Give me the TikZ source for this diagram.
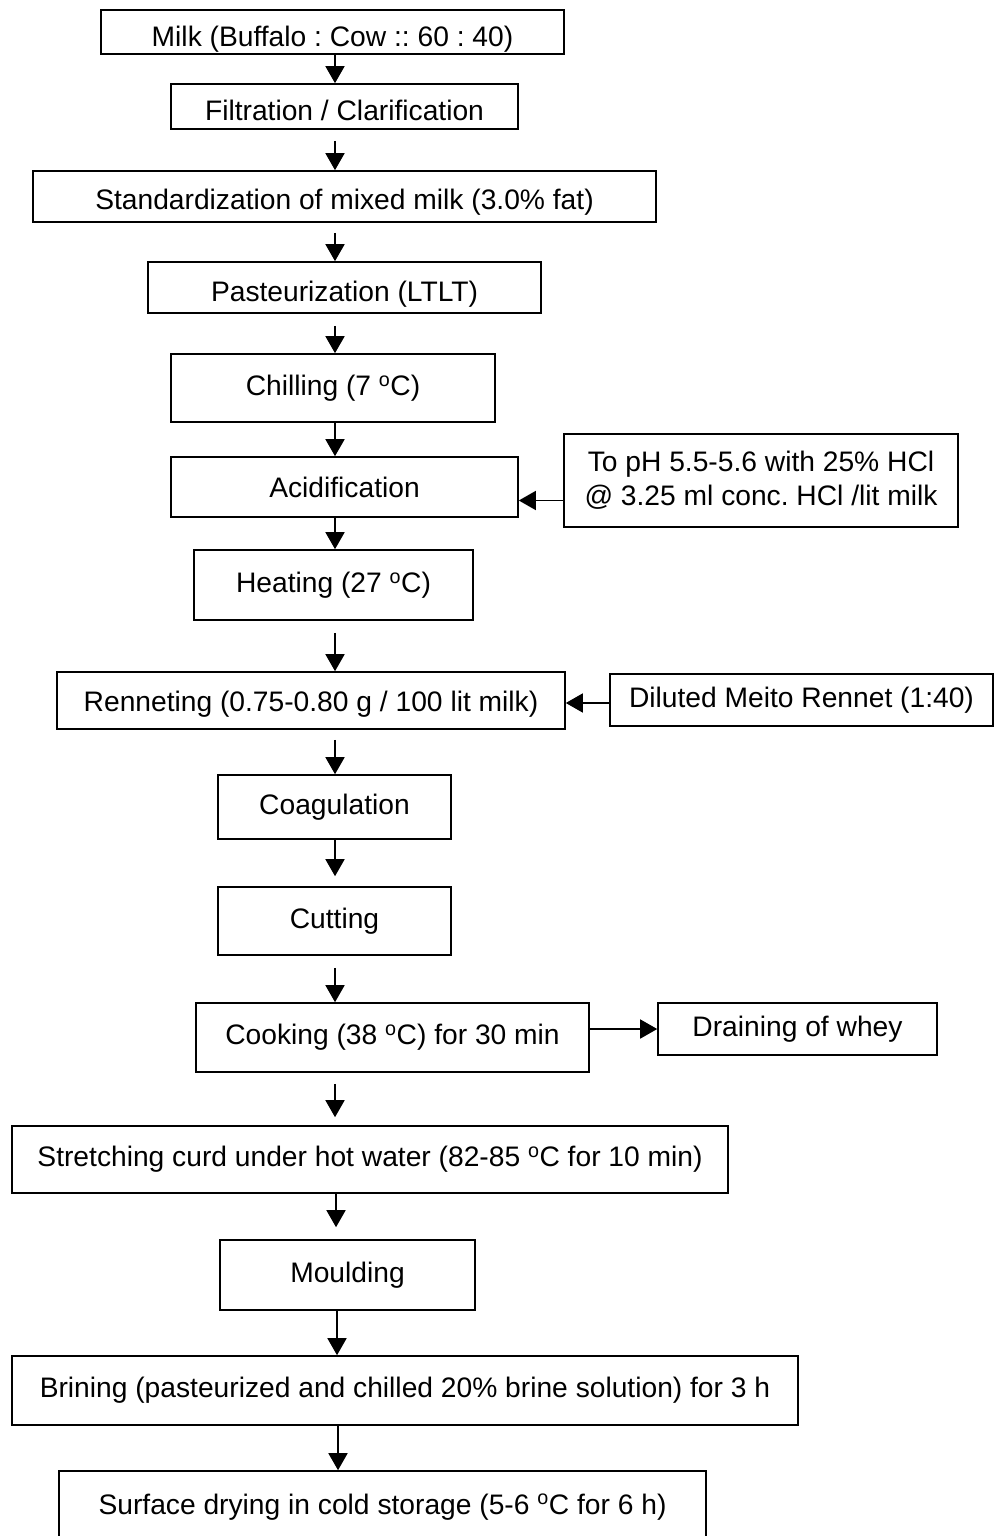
\documentclass[tikz,border=0pt]{standalone}
\usepackage{fontspec}
\setmainfont{Liberation Sans}
\usepackage{tikz}
\usetikzlibrary{arrows.meta,positioning,calc}
\tikzset{
  box/.style={draw=black,fill=white,line width=1.6pt,align=center,inner sep=2pt,
              font=\fontsize{28.2}{34}\selectfont\frenchspacing},
  flow/.style={-{Triangle[length=17pt,width=19pt]},line width=1.6pt,draw=black},
}
\newcommand{\dg}{\textsuperscript{o}}

\begin{document}
\begin{tikzpicture}[x=1pt,y=-1pt]
  \useasboundingbox (0,0) rectangle (995,1536);
  \coordinate (spine) at (335,0);

  % main line
  \node[box,minimum width=463pt,minimum height=44pt,text height=35pt,text depth=5pt] (milk)  at (332.5,32)   {Milk (Buffalo : Cow :: 60 : 40)};
  \node[box,minimum width=347pt,minimum height=45pt,text height=33pt,text depth=4pt] (filt)  at (344.5,106.5) {Filtration / Clarification};
  \node[box,minimum width=623pt,minimum height=51pt,text height=30pt,text depth=5pt] (std)   at (344.5,196.5) {Standardization of mixed milk (3.0\% fat)};
  \node[box,minimum width=393pt,minimum height=51pt,text height=31pt,text depth=4pt] (past)  at (344.5,287.5) {Pasteurization (LTLT)};
  \node[box,minimum width=324pt,minimum height=68pt] (chill) at (333,388)     {Chilling (7 \dg C)};
  \node[box,minimum width=347pt,minimum height=60pt] (acid)  at (344.5,487)   {Acidification};
  \node[box,minimum width=279pt,minimum height=70pt] (heat)  at (333.5,585)   {Heating (27 \dg C)};
  \node[box,minimum width=508pt,minimum height=57pt,text height=26pt,text depth=5pt] (renn)  at (311,700.5)   {Renneting (0.75-0.80 g / 100 lit milk)};
  \node[box,minimum width=233pt,minimum height=64pt] (coag)  at (334.5,807)   {Coagulation};
  \node[box,minimum width=233pt,minimum height=68pt] (cut)   at (334.5,921)   {Cutting};
  \node[box,minimum width=393pt,minimum height=69pt] (cook)  at (392.5,1037.5) {Cooking (38 \dg C) for 30 min};
  \node[box,minimum width=716pt,minimum height=67pt] (stretch) at (370,1159.5) {Stretching curd under hot water (82-85 \dg C for 10 min)};
  \node[box,minimum width=255pt,minimum height=70pt] (mould) at (347.5,1275)  {Moulding};
  \node[box,minimum width=786pt,minimum height=69pt] (brine) at (405,1390.5)  {Brining (pasteurized and chilled 20\% brine solution) for 3 h};
  \node[box,minimum width=647pt,minimum height=76pt,text height=17pt,text depth=7pt] (surf)  at (382.5,1509)  {Surface drying in cold storage (5-6 \dg C for 6 h)};

  % side inputs
  \node[box,minimum width=394pt,minimum height=93pt] (hcl)    at (761,480.5)  {To pH 5.5-5.6 with 25\% HCl\\@ 3.25 ml conc. HCl /lit milk};
  \node[box,minimum width=383pt,minimum height=52pt] (rennet) at (801.5,700)  {Diluted Meito Rennet (1:40)};
  \node[box,minimum width=279pt,minimum height=52pt] (drain)  at (797.5,1029) {Draining of whey};

  \draw[flow] (milk.south -| spine) -- (filt.north -| spine);
  \draw[flow,shorten <=11pt] (filt.south -| spine) -- (std.north -| spine);
  \draw[flow,shorten <=10pt] (std.south -| spine) -- (past.north -| spine);
  \draw[flow,shorten <=12pt] (past.south -| spine) -- (chill.north -| spine);
  \draw[flow] (chill.south -| spine) -- (acid.north -| spine);
  \draw[flow] (acid.south -| spine) -- (heat.north -| spine);
  \draw[flow,shorten <=12pt] (heat.south -| spine) -- (renn.north -| spine);
  \draw[flow,shorten <=10pt] (renn.south -| spine) -- (coag.north -| spine);
  \draw[flow,shorten >=10pt] (coag.south -| spine) -- (cut.north -| spine);
  \draw[flow,shorten <=12pt] (cut.south -| spine) -- (cook.north -| spine);
  \draw[flow,shorten <=11pt,shorten >=8pt] (cook.south -| spine) -- (stretch.north -| spine);
  \draw[flow,shorten >=12pt] ([xshift=1pt]stretch.south -| spine) -- ([xshift=1pt]mould.north -| spine);
  \draw[flow] ([xshift=2pt]mould.south -| spine) -- ([xshift=2pt]brine.north -| spine);
  \draw[flow] ([xshift=3pt]brine.south -| spine) -- ([xshift=3pt]surf.north -| spine);

  \draw[flow] ([yshift=-20pt]hcl.west) -- ([yshift=-20pt]hcl.west -| acid.east);
  \draw[flow] ([yshift=-3pt]rennet.west) -- ([yshift=-3pt]rennet.west -| renn.east);
  \draw[flow] (cook.east |- drain.west) -- (drain.west);
\end{tikzpicture}
\end{document}
